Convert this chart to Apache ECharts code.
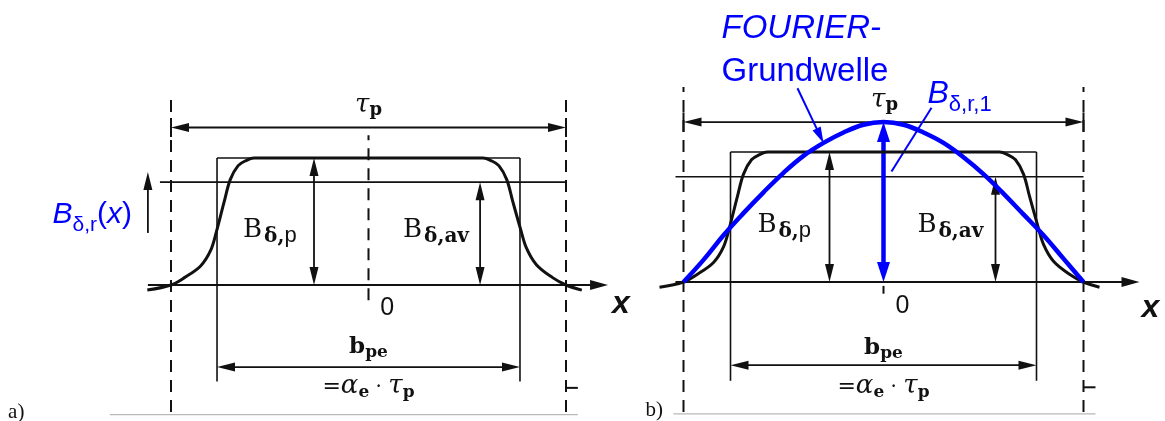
<!DOCTYPE html>
<html>
<head>
<meta charset="utf-8">
<script src="https://cdn.jsdelivr.net/npm/echarts@6/dist/echarts.min.js"></script>
<style>
  html, body { margin: 0; padding: 0; background: #fff; }
  #chart { width: 1165px; height: 421px; }
</style>
</head>
<body>
<div id="chart"></div>
<script>
// Air-gap flux density over one pole pitch.
// x: position in half pole pitches (pole boundaries at x = ±1)
// y: flux density relative to the plateau value B_δ,p

// Radial flux density B_δ,r(x) of the pole (flat top, rounded flanks)
const fluxX = [-1.12, -1.0, -0.93, -0.85, -0.80, -0.77, -0.73, -0.70, -0.66, -0.62, -0.58, -0.50,
                0.50, 0.58, 0.62, 0.66, 0.70, 0.73, 0.77, 0.80, 0.85, 0.93, 1.0, 1.08];
const fluxY = [-0.04, 0.0, 0.06, 0.15, 0.27, 0.42, 0.66, 0.83, 0.94, 0.98, 1.0, 1.0,
                1.0, 1.0, 0.98, 0.94, 0.83, 0.66, 0.44, 0.29, 0.16, 0.06, 0.0, -0.04];

// Fundamental wave B_δ,r,1 (FOURIER-Grundwelle)
const fourierX = [-1.0, -0.9, -0.8, -0.7, -0.6, -0.5, -0.4, -0.3, -0.2, -0.1, 0.0,
                   0.1, 0.2, 0.3, 0.4, 0.5, 0.6, 0.7, 0.8, 0.9, 1.0];
const fourierY = [0.0, 0.17, 0.36, 0.53, 0.69, 0.84, 0.97, 1.07, 1.15, 1.21, 1.23,
                  1.21, 1.15, 1.07, 0.96, 0.83, 0.68, 0.52, 0.36, 0.18, 0.0];

// Characteristic values
const poleEdge = 1.0;     // half pole pitch τp/2
const arcHalf = 0.767;    // half pole arc b_pe/2 = αe·τp/2
const plateau = 1.0;      // B_δ,p
const avgLevel = 0.81;    // B_δ,av
const peakLevel = 1.23;   // amplitude of the fundamental

// ---------------------------------------------------------------------------
const INK = '#111';
const BLUE = '#0000ff';
const SERIF = '"DejaVu Serif", "Liberation Serif", serif';
const SANS = '"Liberation Sans", Arial, sans-serif';
const TIMES = '"Liberation Serif", "Times New Roman", serif';

// pixel scale of the two panels: centre, px per unit x, baseline, px per unit y
const panels = [
  { cx: 368.5, ux: 197.5, by: 285, uy: 127 },
  { cx: 883.5, ux: 200.0, by: 282, uy: 130 }
];
const XR = [-1.3, 1.4], YR = [-1.05, 1.55];

const STYLES = {
  dash:  { stroke: INK, lineWidth: 2, lineDash: [12, 8] },
  frame: { stroke: INK, lineWidth: 1.6 },
  dim:   { stroke: INK, lineWidth: 1.8, head: [18, 4.5] },
  base:  { stroke: INK, lineWidth: 2, head: [18, 5] },
  bar:   { stroke: INK, lineWidth: 2 },
  blue:  { stroke: BLUE, lineWidth: 4.5, head: [20, 6.5] },
  ptr:   { stroke: BLUE, lineWidth: 2, head: [16, 4.5] },
  rule:  { stroke: '#b8b8b8', lineWidth: 1.2 }
};

// straight segments: [x1, y1, x2, y2], style, arrow at start / end
function seg(x1, y1, x2, y2, kind, a1, a2) {
  return { x1, y1, x2, y2, kind, a1: !!a1, a2: !!a2 };
}

function panelSegments(i) {
  const s = [];
  const tauY = i === 0 ? 1.24 : 1.23;
  const dimY = i === 0 ? -0.646 : -0.64;
  const botY = i === 0 ? -1.02 : -1.015;
  const bpX = i === 0 ? -0.276 : -0.27;
  const bavX = i === 0 ? 0.565 : 0.56;
  const arc = i === 0 ? arcHalf : 0.765;
  // pole-boundary guides
  s.push(seg(-poleEdge, -1.0, -poleEdge, 1.5, 'dash'));
  s.push(seg(poleEdge, -1.0, poleEdge, 1.5, 'dash'));
  if (i === 0) s.push(seg(0, -0.12, 0, 1.18, 'dash'));
  else s.push(seg(0, -0.03, 0, -0.09, 'bar'));
  // pole pitch τp
  s.push(seg(-poleEdge, tauY, poleEdge, tauY, 'dim', true, true));
  s.push(seg(-poleEdge, tauY - 0.075, -poleEdge, tauY + 0.075, 'bar'));
  s.push(seg(poleEdge, tauY - 0.075, poleEdge, tauY + 0.075, 'bar'));
  // equivalent rectangle of width b_pe
  s.push(seg(-arc, plateau, arc, plateau, 'frame'));
  s.push(seg(-arc, plateau, -arc, -0.76, 'frame'));
  s.push(seg(arc, plateau, arc, -0.76, 'frame'));
  // average level
  s.push(seg(i === 0 ? -1.056 : -1.04, avgLevel, poleEdge, avgLevel, 'frame'));
  // x axis
  s.push(seg(i === 0 ? -1.117 : -1.04, 0, i === 0 ? 1.213 : 1.28, 0, 'base', false, true));
  // B_δ,p and B_δ,av dimensions
  s.push(seg(bpX, 0, bpX, plateau, 'dim', true, true));
  s.push(seg(bavX, 0, bavX, avgLevel, 'dim', true, true));
  // b_pe dimension
  s.push(seg(-arc, dimY, arc, dimY, 'dim', true, true));
  // small mark and bottom rule
  s.push(seg(poleEdge, -0.81, poleEdge + 0.06, -0.81, 'bar'));
  s.push(seg(i === 0 ? -1.31 : -1.05, botY, 1.06, botY, 'rule'));
  if (i === 0) {
    // direction of B_δ,r(x)
    s.push(seg(-1.117, 0.41, -1.117, 0.89, 'dim', false, true));
  } else {
    // amplitude of the fundamental
    s.push(seg(0, 0, 0, peakLevel, 'blue', true, true));
    // pointers to the annotations
    s.push(seg(-0.43, 1.49, -0.30, 1.07, 'ptr', false, true));
    s.push(seg(0.24, 1.34, 0.04, 0.85, 'ptr'));
  }
  return s;
}

const measureCtx = document.createElement('canvas').getContext('2d');
function textWidth(str, font) { measureCtx.font = font; return measureCtx.measureText(str).width; }
function baselineOffset(font) {
  measureCtx.font = font;
  measureCtx.textBaseline = 'middle';
  return measureCtx.measureText('x').actualBoundingBoxDescent;
}
function f(style, size, family) { return style + ' ' + size + 'px ' + family; }
function part(t, font, dy, color) { return { t, font, dy: dy || 0, color: color || INK }; }

function bLabel(sub, x, y) {
  return { x, y, align: 'left', parts: [
    part('B', f('normal', 26, SERIF)),
    part(' ', f('normal', 6, SERIF)),
    part('δ,', f('bold', 20, SERIF), 5),
    part(sub, sub === 'p' ? f('normal', 22, SANS) : f('bold', 20, SERIF), 5)
  ]};
}
function tauLabel(x, y) {
  return { x, y, align: 'center', parts: [
    part('τ', f('italic', 26, SERIF)),
    part('p', f('bold', 18, SERIF), 3)
  ]};
}
function bpeLabels(x, y1, y2) {
  return [
    { x, y: y1, align: 'center', parts: [
      part('b', f('bold', 23, SERIF)),
      part('pe', f('bold', 17, SERIF), 4)
    ]},
    { x, y: y2, align: 'center', parts: [
      part('=', f('normal', 22, SERIF)),
      part('α', f('italic', 26, SERIF)),
      part('e', f('bold', 17, SERIF), 4),
      part(' · ', f('normal', 20, SERIF)),
      part('τ', f('italic', 26, SERIF)),
      part('p', f('bold', 17, SERIF), 4)
    ]}
  ];
}

function panelLabels(i) {
  const L = [];
  if (i === 0) {
    L.push(tauLabel(0, 1.36));
    L.push(bLabel('p', -0.635, 0.38));
    L.push(bLabel('av', 0.175, 0.38));
    L.push(...bpeLabels(0, -0.535, -0.85));
    L.push({ x: 0.06, y: -0.236, align: 'left', parts: [part('0', f('normal', 25, SANS))] });
    L.push({ x: 1.233, y: -0.22, align: 'left', parts: [part('x', f('italic bold', 32, SANS))] });
    L.push({ x: -1.60, y: 0.49, align: 'left', parts: [
      part('B', f('italic', 30, SANS), 0, BLUE),
      part('δ,r', f('normal', 21, SANS), 8, BLUE),
      part('(', f('normal', 30, SANS), 0, BLUE),
      part('x', f('italic', 30, SANS), 0, BLUE),
      part(')', f('normal', 30, SANS), 0, BLUE)
    ]});
    L.push({ x: -1.825, y: -1.05, align: 'left', parts: [part('a)', f('normal', 21, TIMES))] });
  } else {
    L.push(tauLabel(0.005, 1.35));
    L.push(bLabel('p', -0.63, 0.385));
    L.push(bLabel('av', 0.17, 0.385));
    L.push(...bpeLabels(0, -0.55, -0.85));
    L.push({ x: 0.06, y: -0.24, align: 'left', parts: [part('0', f('normal', 25, SANS))] });
    L.push({ x: 1.29, y: -0.27, align: 'left', parts: [part('x', f('italic bold', 32, SANS))] });
    L.push({ x: -0.81, y: 1.88, align: 'left', parts: [part('FOURIER-', f('italic', 33, SANS), 0, BLUE)] });
    L.push({ x: -0.81, y: 1.55, align: 'left', parts: [part('Grundwelle', f('normal', 33, SANS), 0, BLUE)] });
    L.push({ x: 0.22, y: 1.38, align: 'left', parts: [
      part('B', f('italic', 32, SANS), 0, BLUE),
      part('δ,r,1', f('normal', 22, SANS), 8, BLUE)
    ]});
    L.push({ x: -1.19, y: -1.03, align: 'left', parts: [part('b)', f('normal', 21, TIMES))] });
  }
  return L;
}

function arrowHead(tip, from, head, color) {
  const dx = tip[0] - from[0], dy = tip[1] - from[1];
  const len = Math.hypot(dx, dy) || 1;
  const ux = dx / len, uy = dy / len;
  const bx = tip[0] - ux * head[0], by = tip[1] - uy * head[0];
  return {
    type: 'polygon',
    shape: { points: [tip, [bx - uy * head[1], by + ux * head[1]], [bx + uy * head[1], by - ux * head[1]]] },
    style: { fill: color }
  };
}

function segmentRenderer(segs) {
  return function (params, api) {
    const sDef = segs[params.dataIndex];
    const st = STYLES[sDef.kind];
    const p1 = api.coord([api.value(0), api.value(1)]);
    const p2 = api.coord([api.value(2), api.value(3)]);
    const len = Math.hypot(p2[0] - p1[0], p2[1] - p1[1]) || 1;
    const ux = (p2[0] - p1[0]) / len, uy = (p2[1] - p1[1]) / len;
    let q1 = p1.slice(), q2 = p2.slice();
    const children = [];
    if (sDef.a1) { q1 = [p1[0] + ux * st.head[0] * 0.8, p1[1] + uy * st.head[0] * 0.8]; children.push(arrowHead(p1, p2, st.head, st.stroke)); }
    if (sDef.a2) { q2 = [p2[0] - ux * st.head[0] * 0.8, p2[1] - uy * st.head[0] * 0.8]; children.push(arrowHead(p2, p1, st.head, st.stroke)); }
    children.unshift({
      type: 'line',
      shape: { x1: q1[0], y1: q1[1], x2: q2[0], y2: q2[1] },
      style: { stroke: st.stroke, lineWidth: st.lineWidth, lineDash: st.lineDash || null, fill: null }
    });
    return { type: 'group', children };
  };
}

function labelRenderer(list) {
  return function (params, api) {
    const L = list[params.dataIndex];
    const p = api.coord([api.value(0), api.value(1)]);
    const widths = L.parts.map(q => textWidth(q.t, q.font));
    const total = widths.reduce((a, b) => a + b, 0);
    let cx = L.align === 'center' ? p[0] - total / 2 : p[0];
    const children = L.parts.map((q, k) => {
      const el = {
        type: 'text', x: cx, y: p[1] + q.dy - baselineOffset(q.font),
        style: { text: q.t, font: q.font, fill: q.color, align: 'left', verticalAlign: 'middle' }
      };
      cx += widths[k];
      return el;
    });
    return { type: 'group', children };
  };
}

const grids = panels.map(p => ({
  left: p.cx + XR[0] * p.ux,
  width: (XR[1] - XR[0]) * p.ux,
  top: p.by - YR[1] * p.uy,
  height: (YR[1] - YR[0]) * p.uy
}));

const series = [];
panels.forEach((p, i) => {
  const segs = panelSegments(i);
  const labels = panelLabels(i);
  series.push({
    type: 'custom', xAxisIndex: i, yAxisIndex: i, clip: false, silent: true,
    dimensions: ['x1', 'y1', 'x2', 'y2'], encode: { x: [0, 2], y: [1, 3] },
    data: segs.map(s => [s.x1, s.y1, s.x2, s.y2]),
    renderItem: segmentRenderer(segs)
  });
  series.push({
    type: 'line', xAxisIndex: i, yAxisIndex: i, clip: false, silent: true,
    smooth: 0.35, showSymbol: false, symbol: 'none',
    lineStyle: { color: INK, width: 3 },
    data: fluxX.map((x, k) => [x, fluxY[k]]),
    z: 3
  });
  if (i === 1) {
    series.push({
      type: 'line', xAxisIndex: i, yAxisIndex: i, clip: false, silent: true,
      smooth: 0.4, showSymbol: false, symbol: 'none',
      lineStyle: { color: BLUE, width: 4.5 },
      data: fourierX.map((x, k) => [x, fourierY[k]]),
      z: 4
    });
  }
  series.push({
    type: 'custom', xAxisIndex: i, yAxisIndex: i, clip: false, silent: true,
    data: labels.map(l => [l.x, l.y]),
    renderItem: labelRenderer(labels),
    z: 5
  });
});

const chart = echarts.init(document.getElementById('chart'), null, { renderer: 'canvas' });
chart.setOption({
  animation: false,
  backgroundColor: '#ffffff',
  grid: grids,
  xAxis: panels.map((p, i) => ({ type: 'value', gridIndex: i, min: XR[0], max: XR[1], show: false })),
  yAxis: panels.map((p, i) => ({ type: 'value', gridIndex: i, min: YR[0], max: YR[1], show: false })),
  series
});
</script>
</body>
</html>
